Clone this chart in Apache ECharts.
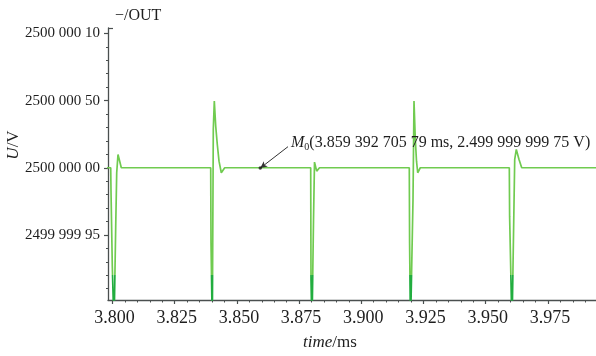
<!DOCTYPE html>
<html>
<head>
<meta charset="utf-8">
<script src="https://cdn.jsdelivr.net/npm/echarts@6/dist/echarts.min.js"></script>
<style>
  html, body { margin: 0; padding: 0; background: #ffffff; }
  #chart { width: 596px; height: 356px; }
</style>
</head>
<body>
<div id="chart"></div>
<script>
// Output voltage trace around the switching instants (time in ms, voltage in V)
const timeMs = [
  3.79700, 3.79928, 3.79940, 3.79992, 3.80060, 3.80129, 3.80169, 3.80221, 3.80354,
  3.83947, 3.83959, 3.84011, 3.84051, 3.84092, 3.84148, 3.84212, 3.84281, 3.84373, 3.84510,
  3.87966, 3.87978, 3.88018, 3.88079, 3.88119, 3.88207, 3.88320,
  3.91929, 3.91941, 3.91977, 3.92078, 3.92118, 3.92170, 3.92219, 3.92267, 3.92371,
  3.95949, 3.95961, 3.96057, 3.96166, 3.96230, 3.96339, 3.96447,
  3.99600
];
const voltV = [
  2.5, 2.5, 2.4999999826, 2.4999999268, 2.49999988, 2.4999999565, 2.4999999963, 2.5000000099, 2.5,
  2.5, 2.4999999442, 2.49999988, 2.5000000285, 2.5000000496, 2.5000000310, 2.5000000173, 2.5000000049, 2.4999999963, 2.5,
  2.5, 2.4999999169, 2.49999988, 2.4999999614, 2.5000000042, 2.4999999975, 2.5,
  2.5, 2.4999999442, 2.49999988, 2.4999999763, 2.5000000496, 2.5000000211, 2.5000000049, 2.4999999963, 2.5,
  2.5, 2.4999999640, 2.49999988, 2.5000000062, 2.5000000136, 2.5000000062, 2.5,
  2.5
];

// Marker M0
const markerTime = 3.85939270579;
const markerVolt = 2.49999999975;
const markerLabel = '(3.859 392 705 79 ms, 2.499 999 999 75 V)';
// end of the leader line (where the label sits)
const leaderEnd = [3.87054, 2.5000000157];

// Axis ticks and labels
const xMajor = [3.800, 3.825, 3.850, 3.875, 3.900, 3.925, 3.950, 3.975];
const xTickLabels = ['3.800', '3.825', '3.850', '3.875', '3.900', '3.925', '3.950', '3.975'];
const yMajor = [2.49999995, 2.5, 2.50000005, 2.5000001];
const yTickLabels = ['2499 999 95', '2500 000 00', '2500 000 50', '2500 000 10'];

const xMin = 3.79819, xMax = 3.99433;
const yMin = 2.4999999016, yMax = 2.500000104;
// below this level the steep edges are drawn in a deeper green
const deepLevel = 2.49999992;

// minor ticks: five subdivisions per major step
const xMinor = [];
for (let k = 1; k <= 38; k++) {
  if (k % 5 !== 0) xMinor.push(3.8 + k * 0.005);
}
const yMinor = [];
for (let k = -9; k <= 10; k++) {
  if (k % 5 !== 0) yMinor.push(2.5 + k * 1e-8);
}

const serif = 'Liberation Serif';
const ink = '#1e1e1e';
const axisColor = '#4a4f4f';
const lightGreen = '#70cb50';
const deepGreen = '#22ad3f';

function pickLabel(values, labels, v) {
  let best = -1, bd = Infinity;
  values.forEach((t, i) => {
    const d = Math.abs(t - v);
    if (d < bd) { bd = d; best = i; }
  });
  return best >= 0 ? labels[best] : '';
}

const chart = echarts.init(document.getElementById('chart'), null, { renderer: 'canvas' });

chart.setOption({
  animation: false,
  backgroundColor: '#ffffff',
  grid: { left: 108, right: 0, top: 28, bottom: 56, containLabel: false, outerBoundsMode: 'none' },
  xAxis: [
    {
      type: 'value', min: xMin, max: xMax, position: 'bottom',
      axisLine: { show: true, lineStyle: { color: axisColor, width: 1.3 } },
      axisTick: { show: true, customValues: xMajor, length: 4, lineStyle: { color: axisColor, width: 1.2 } },
      axisLabel: {
        show: true, customValues: xMajor, margin: 9, padding: [0, 0, 0, 4],
        formatter: v => pickLabel(xMajor, xTickLabels, v),
        fontFamily: serif, fontSize: 18, color: ink
      },
      splitLine: { show: false }
    },
    {
      type: 'value', min: xMin, max: xMax, position: 'bottom',
      axisLine: { show: false },
      axisTick: { show: true, customValues: xMinor, length: 2.5, lineStyle: { color: axisColor, width: 1 } },
      axisLabel: { show: false },
      splitLine: { show: false }
    }
  ],
  yAxis: [
    {
      type: 'value', min: yMin, max: yMax, position: 'left',
      axisLine: { show: true, lineStyle: { color: axisColor, width: 1.3 } },
      axisTick: { show: true, customValues: yMajor, length: 4, lineStyle: { color: axisColor, width: 1.2 } },
      axisLabel: {
        show: true, customValues: yMajor, margin: 8,
        formatter: v => pickLabel(yMajor, yTickLabels, v),
        fontFamily: serif, fontSize: 15, color: ink
      },
      splitLine: { show: false }
    },
    {
      type: 'value', min: yMin, max: yMax, position: 'left',
      axisLine: { show: false },
      axisTick: { show: true, customValues: yMinor, length: 2, lineStyle: { color: axisColor, width: 1 } },
      axisLabel: { show: false },
      splitLine: { show: false }
    },
    {
      // small inward cap at the top end of the vertical axis
      type: 'value', min: yMin, max: yMax, position: 'left',
      axisLine: { show: false },
      axisTick: { show: true, inside: true, customValues: [yMax], length: 5, lineStyle: { color: axisColor, width: 1.2 } },
      axisLabel: { show: false },
      splitLine: { show: false }
    }
  ],
  visualMap: {
    show: false,
    type: 'piecewise',
    seriesIndex: 0,
    dimension: 1,
    pieces: [
      { min: 2.4999998, max: deepLevel, color: deepGreen },
      { min: deepLevel, max: 2.5000002, color: lightGreen }
    ],
    outOfRange: { color: lightGreen }
  },
  series: [
    {
      type: 'line',
      xAxisIndex: 0, yAxisIndex: 0,
      data: timeMs.map((t, i) => [t, voltV[i]]),
      showSymbol: false,
      symbol: 'none',
      clip: true,
      lineStyle: { width: 1.7 },
      silent: true
    },
    {
      type: 'scatter',
      xAxisIndex: 0, yAxisIndex: 0,
      data: [[markerTime, markerVolt]],
      symbol: 'circle',
      symbolSize: 3.5,
      itemStyle: { color: '#1a1a1a' },
      silent: true,
      z: 5,
      markLine: {
        silent: true,
        symbol: ['arrow', 'none'],
        symbolSize: [5, 7],
        label: { show: false },
        lineStyle: { color: '#333333', width: 1, type: 'solid' },
        data: [[{ coord: [markerTime, markerVolt] }, { coord: leaderEnd }]]
      },
      markPoint: {
        silent: true,
        symbol: 'circle',
        symbolSize: 0,
        data: [{ coord: leaderEnd }],
        label: {
          show: true,
          position: 'right',
          distance: 3,
          offset: [0, -4],
          formatter: '{m|M}{s|0}{t|' + markerLabel + '}',
          rich: {
            m: { fontFamily: serif, fontSize: 16, fontStyle: 'italic', color: ink, lineHeight: 20 },
            s: { fontFamily: serif, fontSize: 10, color: ink, lineHeight: 12, verticalAlign: 'bottom' },
            t: { fontFamily: serif, fontSize: 16, color: ink, lineHeight: 20 }
          }
        }
      }
    }
  ],
  graphic: [
    {
      type: 'text', left: 115, top: 8, silent: true,
      style: { text: '\u2212/OUT', fontFamily: serif, fontSize: 16, fill: ink }
    },
    {
      type: 'text', x: 14, y: 145, rotation: Math.PI / 2, silent: true,
      style: {
        text: '{i|U}{n|/V}',
        align: 'center', verticalAlign: 'middle',
        rich: {
          i: { fontFamily: serif, fontSize: 17, fontStyle: 'italic', fill: ink },
          n: { fontFamily: serif, fontSize: 17, fill: ink }
        }
      }
    },
    {
      type: 'text', x: 330, y: 343, silent: true,
      style: {
        text: '{i|time}{n|/ms}',
        align: 'center', verticalAlign: 'middle',
        rich: {
          i: { fontFamily: serif, fontSize: 17, fontStyle: 'italic', fill: ink },
          n: { fontFamily: serif, fontSize: 17, fill: ink }
        }
      }
    }
  ]
});
</script>
</body>
</html>
